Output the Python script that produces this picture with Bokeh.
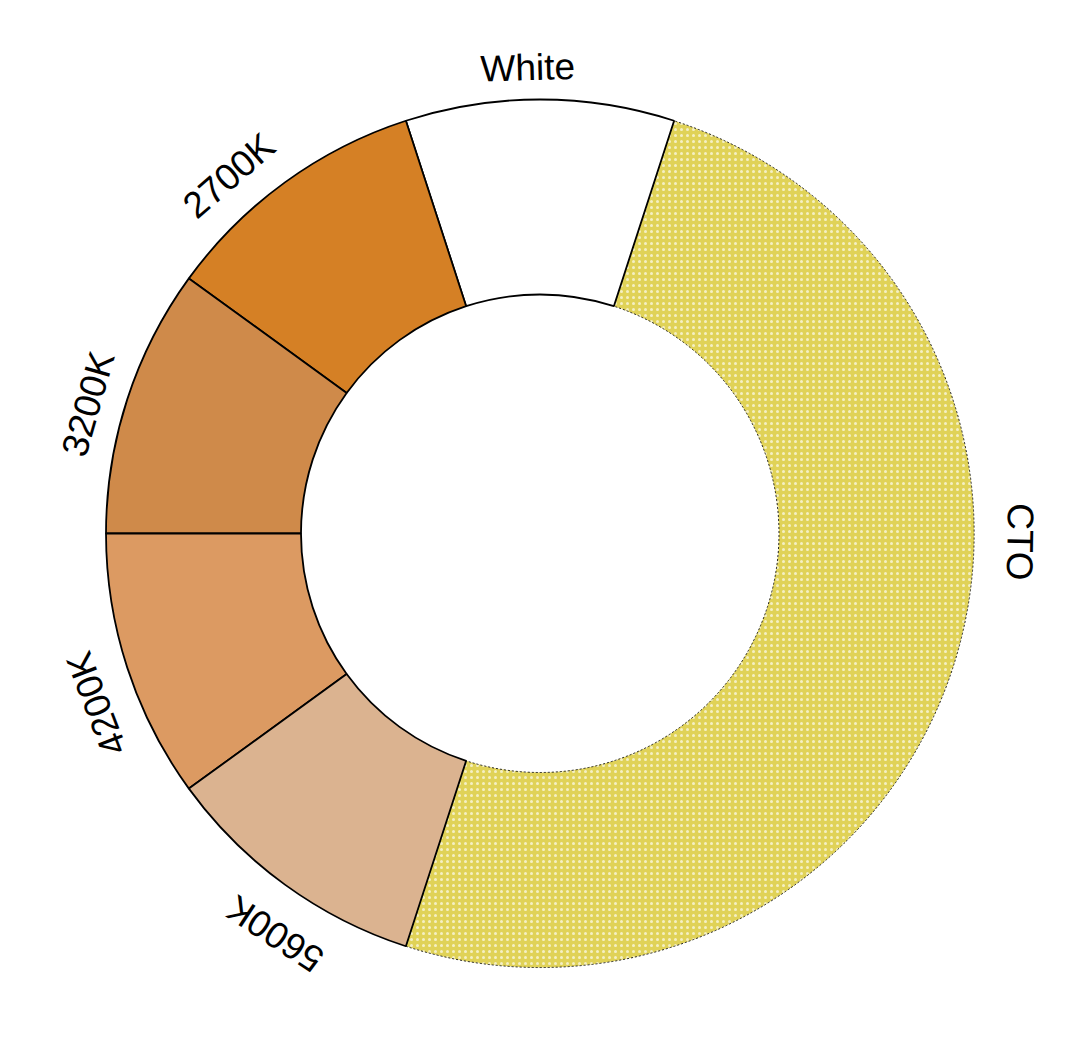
import numpy as np
from bokeh.plotting import figure
from bokeh.models import Range1d, ColumnDataSource
from bokeh.core.properties import value
from bokeh.embed import file_html
from bokeh.resources import INLINE

# ---- data ----
categories = ["White", "2700K", "3200K", "4200K", "5600K", "CTO"]
values = [1, 1, 1, 1, 1, 5]
colors = ["#FFFFFF", "#D58025", "#CF8A4A", "#DC9A62", "#DBB390", "#E0D257"]

# ---- layout constants ----
W, H = 1072, 1026
cx_px, cy_px = 539.5, 533.0          # centre within the figure (pixels)
R_OUT, R_IN = 434, 239
label_r = [466, 474, 470, 475, 480, 480]
label_theta_deg = [-1.5, -41, -74, -111, -146.5, 91]   # clockwise from top

total = float(sum(values))
fr = np.array(values) / total
start0 = np.pi / 2 - fr[0] * np.pi            # first slice centred at the top
ends = start0 + np.cumsum(fr) * 2 * np.pi
starts = ends - fr * 2 * np.pi

p = figure(width=W, height=H, output_backend="svg", toolbar_location=None,
           x_range=Range1d(-cx_px, W - cx_px), y_range=Range1d(-(H - cy_px), cy_px),
           min_border=0)
p.axis.visible = False
p.grid.visible = False
p.outline_line_color = None
p.background_fill_color = "white"
p.border_fill_color = "white"

solid = ColumnDataSource(dict(start=starts[:5], end=ends[:5], color=colors[:5], cat=categories[:5]))
hatch = ColumnDataSource(dict(start=starts[5:], end=ends[5:], color=colors[5:], cat=categories[5:]))

p.annular_wedge(x=0, y=0, inner_radius=R_IN, outer_radius=R_OUT,
                start_angle="start", end_angle="end", source=hatch,
                fill_color="color", line_color="#222222", line_width=1, line_dash="2 2",
                hatch_pattern="dot", hatch_color="white", hatch_scale=6, hatch_weight=2,
                hatch_alpha=0.65)
p.annular_wedge(x=0, y=0, inner_radius=R_IN, outer_radius=R_OUT,
                start_angle="start", end_angle="end", source=solid,
                fill_color="color", line_color="black", line_width=1.8)

th = np.deg2rad(label_theta_deg)
rr = np.array(label_r, dtype=float)
lx = rr * np.sin(th)
ly = rr * np.cos(th)
lab = ColumnDataSource(dict(x=lx, y=ly, t=categories, a=-th))
p.text(x="x", y="y", text="t", angle="a", source=lab,
       text_font=value("Liberation Sans"), text_font_size="37px",
       text_align="center", text_baseline="middle", text_color="black")

open("out.html", "w").write(file_html(p, INLINE))
